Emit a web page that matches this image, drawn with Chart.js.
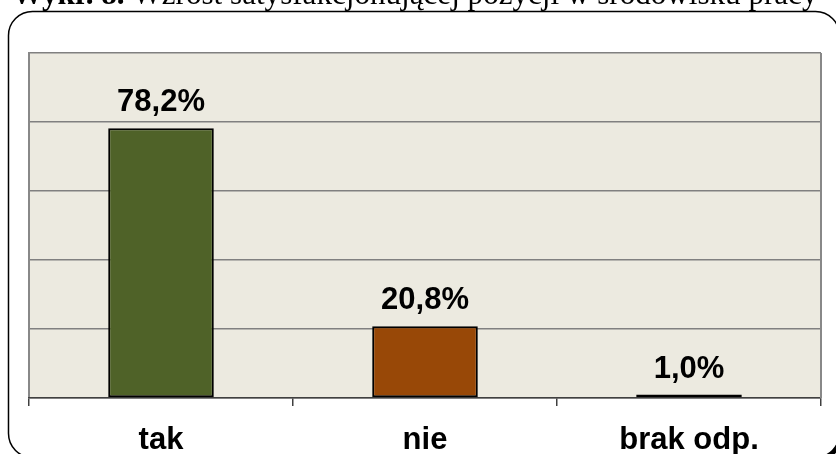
<!DOCTYPE html>
<html>
<head>
<meta charset="utf-8">
<script src="https://cdn.jsdelivr.net/npm/chart.js@4.4.1/dist/chart.umd.min.js"></script>
<style>
  body { margin: 0; background: #fff; }
  canvas { display: block; }
</style>
</head>
<body>
<canvas id="chart" width="836" height="454"></canvas>
<script>
const categories = ['tak', 'nie', 'brak odp.'];
const values = [78.2, 20.8, 1.0];
const valueLabels = ['78,2%', '20,8%', '1,0%'];
const barColors = ['#4F6228', '#984807', '#B8A400'];
const titleBold = 'Wykr. 8.';
const titleRest = ' Wzrost satysfakcjonującej pozycji w środowisku pracy';

const framePlugin = {
	id: 'frame',
	beforeDraw(chart) {
		const ctx = chart.ctx;
		const a = chart.chartArea;
		ctx.save();
		// title, cut off by the top of the page
		let size = 24;
		ctx.font = `bold ${size}px "Liberation Serif"`;
		let w1 = ctx.measureText(titleBold).width;
		ctx.font = `${size}px "Liberation Serif"`;
		let w2 = ctx.measureText(titleRest).width;
		size = size * 806 / (w1 + w2);
		ctx.fillStyle = '#000';
		ctx.textBaseline = 'alphabetic';
		ctx.font = `bold ${size}px "Liberation Serif"`;
		ctx.fillText(titleBold, 12, 4);
		w1 = ctx.measureText(titleBold).width;
		ctx.font = `${size}px "Liberation Serif"`;
		ctx.fillText(titleRest, 12 + w1, 4);
		// rounded frame
		ctx.lineWidth = 1.5;
		ctx.strokeStyle = '#000';
		ctx.beginPath();
		ctx.roundRect(8.5, 11.5, 831, 446, 24);
		ctx.stroke();
		// heavier bottom-right corner
		ctx.lineWidth = 4;
		ctx.beginPath();
		ctx.arc(817, 435, 24, 0.05, Math.PI / 2 - 0.05);
		ctx.stroke();
		ctx.restore();
		// plot background
		ctx.save();
		ctx.fillStyle = '#ECEAE0';
		ctx.fillRect(a.left, a.top, a.right - a.left, a.bottom - a.top);
		ctx.restore();
	},
	afterDatasetsDraw(chart) {
		const ctx = chart.ctx;
		const a = chart.chartArea;
		ctx.save();
		ctx.strokeStyle = '#888';
		ctx.lineWidth = 2;
		ctx.beginPath();
		ctx.moveTo(a.right, a.top);
		ctx.lineTo(a.right, a.bottom);
		ctx.stroke();
		// value labels above bars
		ctx.fillStyle = '#000';
		ctx.font = 'bold 31px "Liberation Sans", Arial';
		ctx.textAlign = 'center';
		ctx.textBaseline = 'alphabetic';
		chart.getDatasetMeta(0).data.forEach((bar, i) => {
			ctx.fillText(valueLabels[i], bar.x, bar.y - 17);
		});
		ctx.restore();
	}
};

new Chart(document.getElementById('chart'), {
	type: 'bar',
	data: {
		labels: categories,
		datasets: [{
			data: values,
			backgroundColor: barColors,
			borderColor: '#000',
			borderWidth: 2,
			borderSkipped: false,
			categoryPercentage: 1,
			barPercentage: 0.4
		}]
	},
	options: {
		responsive: false,
		animation: false,
		devicePixelRatio: 1,
		layout: { padding: { left: 29, right: 15, top: 53, bottom: 0 } },
		plugins: {
			legend: { display: false },
			tooltip: { enabled: false }
		},
		scales: {
			y: {
				min: 0,
				max: 100,
				ticks: { display: false, stepSize: 20 },
				grid: { color: '#808080', lineWidth: 1.5, drawTicks: false },
				border: { display: true, color: '#888', width: 2 },
				afterFit: (s) => { s.width = 0; }
			},
			x: {
				grid: { drawOnChartArea: false, drawTicks: true, tickLength: 8, color: '#404040', lineWidth: 1.5 },
				border: { display: true, color: '#404040', width: 1.5 },
				ticks: {
					color: '#000',
					padding: 16,
					font: { family: '"Liberation Sans", Arial', size: 31, weight: 'bold' }
				},
				afterFit: (s) => { s.height = 56; }
			}
		}
	},
	plugins: [framePlugin]
});
</script>
</body>
</html>
